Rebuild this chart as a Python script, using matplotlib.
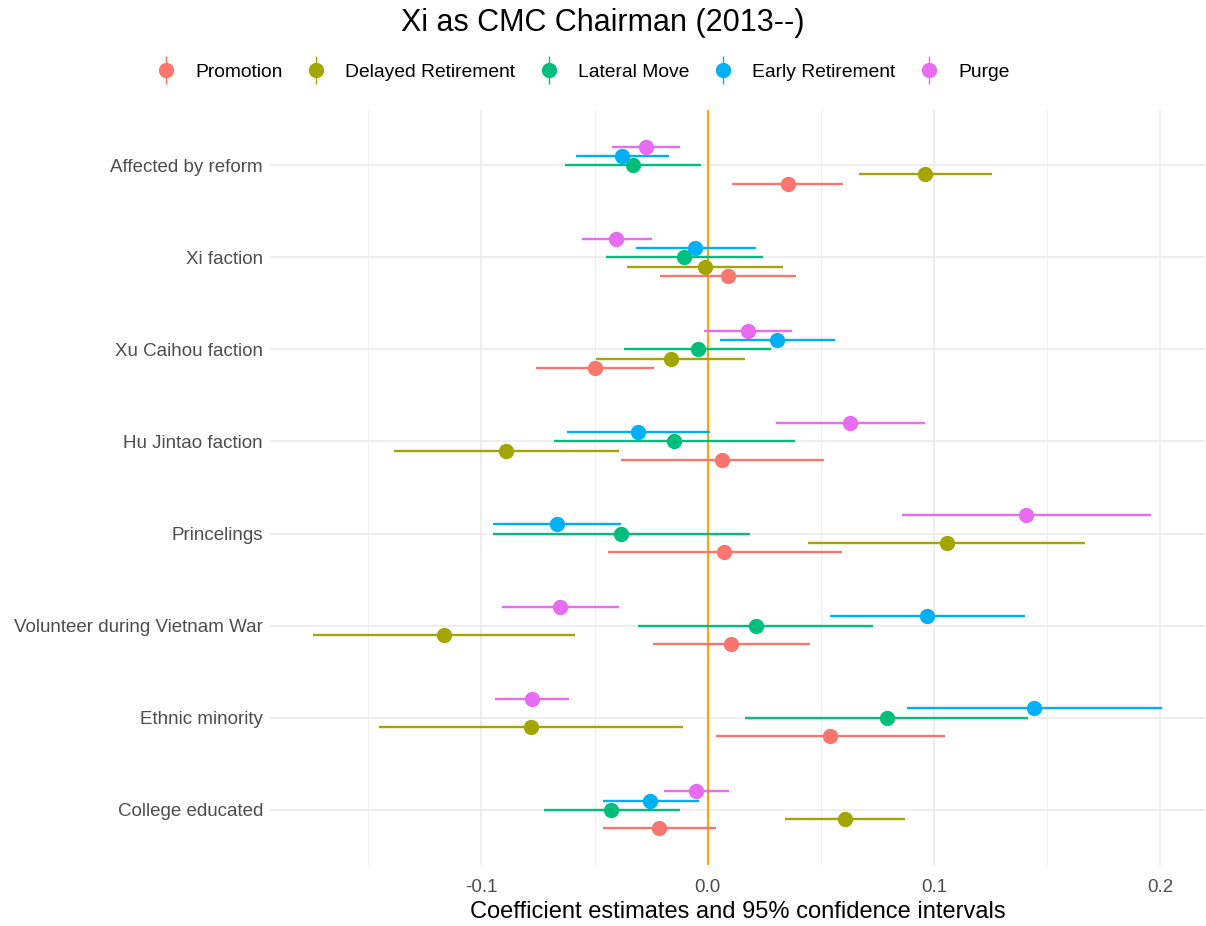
import numpy as np
import matplotlib
matplotlib.use("Agg")
import matplotlib.pyplot as plt
from matplotlib.lines import Line2D
from matplotlib.legend_handler import HandlerTuple

plt.rcParams['font.family'] = ['Liberation Sans', 'DejaVu Sans']

# variables, top to bottom
variables = ["Affected by reform", "Xi faction", "Xu Caihou faction", "Hu Jintao faction",
             "Princelings", "Volunteer during Vietnam War", "Ethnic minority", "College educated"]

outcomes = ["Promotion", "Delayed Retirement", "Lateral Move", "Early Retirement", "Purge"]
colors = ["#F8766D", "#A3A500", "#00BF7D", "#00B0F6", "#E76BF3"]

# estimate, lower, upper for each outcome (same order as variables)
promotion_est = [0.0353, 0.0090, -0.0499, 0.0064, 0.0074, 0.0103, 0.0541, -0.0215]
promotion_lo = [0.0106, -0.0211, -0.0760, -0.0383, -0.0439, -0.0244, 0.0038, -0.0463]
promotion_hi = [0.0599, 0.0390, -0.0236, 0.0513, 0.0591, 0.0452, 0.1047, 0.0035]

delayed_est = [0.0960, -0.0013, -0.0164, -0.0892, 0.1055, -0.1167, -0.0781, 0.0606]
delayed_lo = [0.0669, -0.0355, -0.0495, -0.1388, 0.0444, -0.1746, -0.1451, 0.0343]
delayed_hi = [0.1256, 0.0334, 0.0166, -0.0394, 0.1668, -0.0588, -0.0108, 0.0872]

lateral_est = [-0.0332, -0.0104, -0.0045, -0.0150, -0.0382, 0.0212, 0.0791, -0.0426]
lateral_lo = [-0.0630, -0.0450, -0.0371, -0.0678, -0.0948, -0.0306, 0.0166, -0.0724]
lateral_hi = [-0.0031, 0.0243, 0.0278, 0.0385, 0.0186, 0.0731, 0.1417, -0.0121]

early_est = [-0.0380, -0.0055, 0.0308, -0.0308, -0.0664, 0.0969, 0.1443, -0.0254]
early_lo = [-0.0583, -0.0318, 0.0055, -0.0623, -0.0948, 0.0538, 0.0880, -0.0463]
early_hi = [-0.0173, 0.0213, 0.0564, 0.0008, -0.0382, 0.1402, 0.2009, -0.0040]

purge_est = [-0.0273, -0.0404, 0.0176, 0.0630, 0.1407, -0.0653, -0.0776, -0.0051]
purge_lo = [-0.0425, -0.0557, -0.0015, 0.0301, 0.0859, -0.0911, -0.0940, -0.0192]
purge_hi = [-0.0122, -0.0246, 0.0371, 0.0960, 0.1957, -0.0392, -0.0614, 0.0092]

series = [
    (promotion_est, promotion_lo, promotion_hi),
    (delayed_est, delayed_lo, delayed_hi),
    (lateral_est, lateral_lo, lateral_hi),
    (early_est, early_lo, early_hi),
    (purge_est, purge_lo, purge_hi),
]
dodge = [-0.2, -0.1, 0.0, 0.1, 0.2]

fig = plt.figure(figsize=(12.06, 9.26), dpi=100)
ax = fig.add_axes([270 / 1206, 61 / 926, 935 / 1206, 755 / 926])

base = np.arange(len(variables), 0, -1)

# grid
for v in [-0.15, -0.05, 0.05, 0.15]:
    ax.axvline(v, color="#EBEBEB", lw=0.6, zorder=0)
for v in [-0.1, 0.0, 0.1, 0.2]:
    ax.axvline(v, color="#EBEBEB", lw=1.2, zorder=0)
for y in base:
    ax.axhline(y, color="#EBEBEB", lw=1.2, zorder=0)

ax.axvline(0, color="orange", lw=1.5, zorder=1)

for (est, lo, hi), c, d in zip(series, colors, dodge):
    y = base + d
    ax.hlines(y, lo, hi, color=c, lw=1.7, zorder=2)
    ax.plot(est, y, "o", color=c, markersize=10, zorder=3)

ax.set_xlim(-0.1934, 0.2197)
ax.set_ylim(0.4, len(variables) + 0.6)
ax.set_xticks([-0.1, 0.0, 0.1, 0.2])
ax.set_xticklabels(["-0.1", "0.0", "0.1", "0.2"])
ax.set_yticks(base)
ax.set_yticklabels(variables)
ax.tick_params(length=0, labelsize=13.5, labelcolor="#4D4D4D")
ax.tick_params(axis="x", pad=10)
ax.tick_params(axis="y", pad=5)
for s in ax.spines.values():
    s.set_visible(False)
ax.set_xlabel("Coefficient estimates and 95% confidence intervals", fontsize=17, labelpad=4)

fig.text(0.5, 1 - 23 / 926, "Xi as CMC Chairman (2013--)", ha="center", va="center", fontsize=22)

handles = []
for c in colors:
    vline = Line2D([], [], color=c, marker="|", markersize=20, markeredgewidth=1.0, linestyle="none")
    dot = Line2D([], [], color=c, marker="o", markersize=10, linestyle="none")
    handles.append((vline, dot))
fig.legend(handles, outcomes, loc="center", bbox_to_anchor=(583 / 1206, 1 - 72 / 926), ncol=5,
           frameon=False, fontsize=13.9, handler_map={tuple: HandlerTuple(ndivide=1)},
           handlelength=1.0, handletextpad=1.0, columnspacing=1.25)

fig.savefig("out.png", dpi=100)
